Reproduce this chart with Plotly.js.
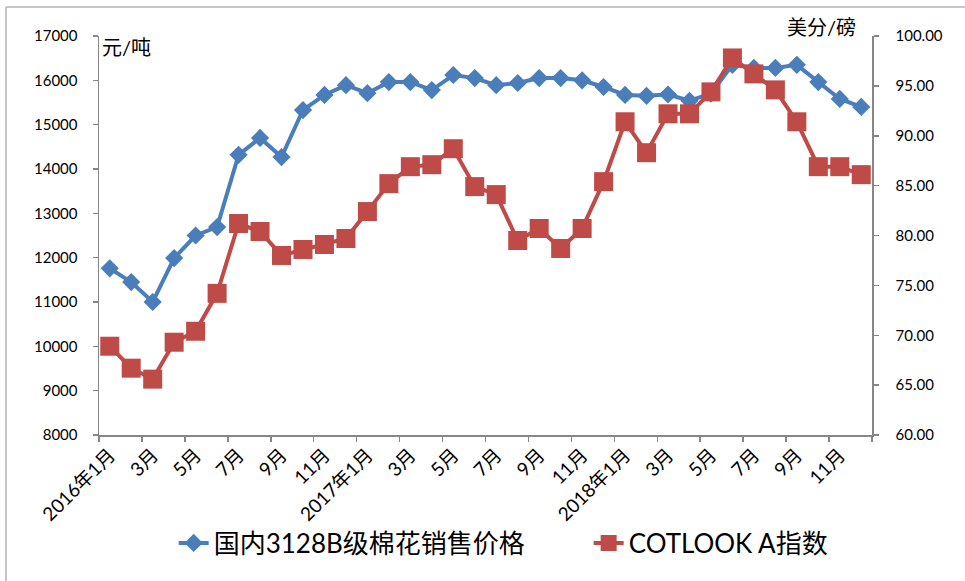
<!DOCTYPE html>
<html>
<head>
<meta charset="utf-8">
<script src="https://cdn.plot.ly/plotly-3.0.1.min.js"></script>
<style>
  html, body { margin: 0; padding: 0; background: #fff; }
  #chart { width: 965px; height: 581px; }
</style>
</head>
<body>
<div id="chart"></div>
<script>
// Month labels (category axis)
const months = [
  "2016年1月","2月","3月","4月","5月","6月","7月","8月","9月","10月","11月","12月",
  "2017年1月","2月","3月","4月","5月","6月","7月","8月","9月","10月","11月","12月",
  "2018年1月","2月","3月","4月","5月","6月","7月","8月","9月","10月","11月","12月"
];

// 国内3128B级棉花销售价格 (元/吨, left axis)
const domesticPrice = [
  11760, 11450, 11000, 11990, 12500, 12690, 14320, 14700, 14270, 15330, 15670, 15890,
  15710, 15960, 15960, 15780, 16120, 16050, 15890, 15940, 16050, 16050, 16000, 15850,
  15670, 15650, 15680, 15540, 15700, 16350, 16280, 16280, 16350, 15960, 15580, 15400
];

// COTLOOK A指数 (美分/磅, right axis)
const cotlookA = [
  68.9, 66.7, 65.6, 69.3, 70.4, 74.2, 81.2, 80.4, 78.0, 78.6, 79.1, 79.7,
  82.4, 85.2, 86.9, 87.1, 88.7, 84.9, 84.1, 79.5, 80.7, 78.7, 80.7, 85.4,
  91.4, 88.3, 92.2, 92.2, 94.4, 97.8, 96.2, 94.6, 91.4, 86.9, 86.9, 86.1
];

const seriesNames = ["国内3128B级棉花销售价格", "COTLOOK A指数"];

const xIdx = months.map((_, i) => i);
const labelIdx = xIdx.filter(i => i % 2 === 0);
const labelText = labelIdx.map(i => months[i]);

const FONT = "Lato, 'Noto Sans CJK SC', sans-serif";
const AXIS_COLOR = "#868686";

const traces = [
  {
    x: xIdx, y: domesticPrice, name: seriesNames[0], type: "scatter", mode: "lines+markers",
    yaxis: "y", legend: "legend",
    line: { color: "#4A7EBB", width: 4 },
    marker: { symbol: "diamond", size: 14, color: "#4A7EBB" }
  },
  {
    x: xIdx, y: cotlookA, name: seriesNames[1], type: "scatter", mode: "lines+markers",
    yaxis: "y2", legend: "legend2",
    line: { color: "#BE4B48", width: 4 },
    marker: { symbol: "square", size: 19, color: "#BE4B48" }
  }
];

const legendBase = {
  orientation: "h", xref: "container", yref: "container",
  xanchor: "left", y: 0.0654, yanchor: "middle",
  font: { size: 26, family: FONT, color: "#000" },
  bgcolor: "rgba(0,0,0,0)"
};

const layout = {
  width: 965, height: 581,
  margin: { l: 99, r: 93, t: 36, b: 146 },
  paper_bgcolor: "#fff", plot_bgcolor: "#fff",
  font: { family: FONT, size: 15, color: "#000" },
  showlegend: true,
  legend: Object.assign({}, legendBase, { x: 0.180 }),
  legend2: Object.assign({}, legendBase, { x: 0.610 }),
  xaxis: {
    type: "linear", range: [-0.5, 35.5], automargin: false,
    tickmode: "array", tickvals: labelIdx, ticktext: labelText,
    tickangle: -45, ticks: "", showgrid: false, zeroline: false,
    showline: true, linecolor: AXIS_COLOR, linewidth: 1.5,
    tickfont: { size: 19, family: FONT, color: "#000" },
    minor: { tickmode: "linear", tick0: -0.5, dtick: 2, ticks: "outside", ticklen: 5, tickcolor: AXIS_COLOR, tickwidth: 1.5, showgrid: false }
  },
  yaxis: {
    range: [8000, 17000], dtick: 1000, tick0: 8000, tickformat: "d", automargin: false,
    ticks: "outside", ticklen: 5, tickcolor: AXIS_COLOR, tickwidth: 1.5,
    showline: true, linecolor: AXIS_COLOR, linewidth: 1.5,
    showgrid: false, zeroline: false,
    ticklabelstandoff: 12,
    tickfont: { size: 15, family: FONT, color: "#000" }
  },
  yaxis2: {
    range: [60, 100], dtick: 5, tick0: 60, tickformat: ".2f", automargin: false,
    overlaying: "y", side: "right",
    ticks: "outside", ticklen: 5, tickcolor: AXIS_COLOR, tickwidth: 1.5,
    showline: true, linecolor: AXIS_COLOR, linewidth: 1.5,
    showgrid: false, zeroline: false,
    ticklabelstandoff: 14,
    tickfont: { size: 15, family: FONT, color: "#000" }
  },
  annotations: [
    { text: "元/吨", xref: "paper", yref: "paper", x: 0.0013, y: 0.972, xanchor: "left", yanchor: "middle",
      showarrow: false, font: { size: 20, family: FONT, color: "#000" } },
    { text: "美分/磅", xref: "paper", yref: "paper", x: 0.982, y: 1.0226, xanchor: "right", yanchor: "middle",
      showarrow: false, font: { size: 20, family: FONT, color: "#000" } }
  ],
  shapes: [
    { type: "rect", xref: "paper", yref: "paper", x0: -0.1203, x1: 1.3, y0: -0.6, y1: 1.0727,
      line: { color: "#8c8c8c", width: 1 }, fillcolor: "rgba(0,0,0,0)", layer: "below" }
  ]
};

Plotly.newPlot("chart", traces, layout, { displayModeBar: false, staticPlot: true });
</script>
</body>
</html>
